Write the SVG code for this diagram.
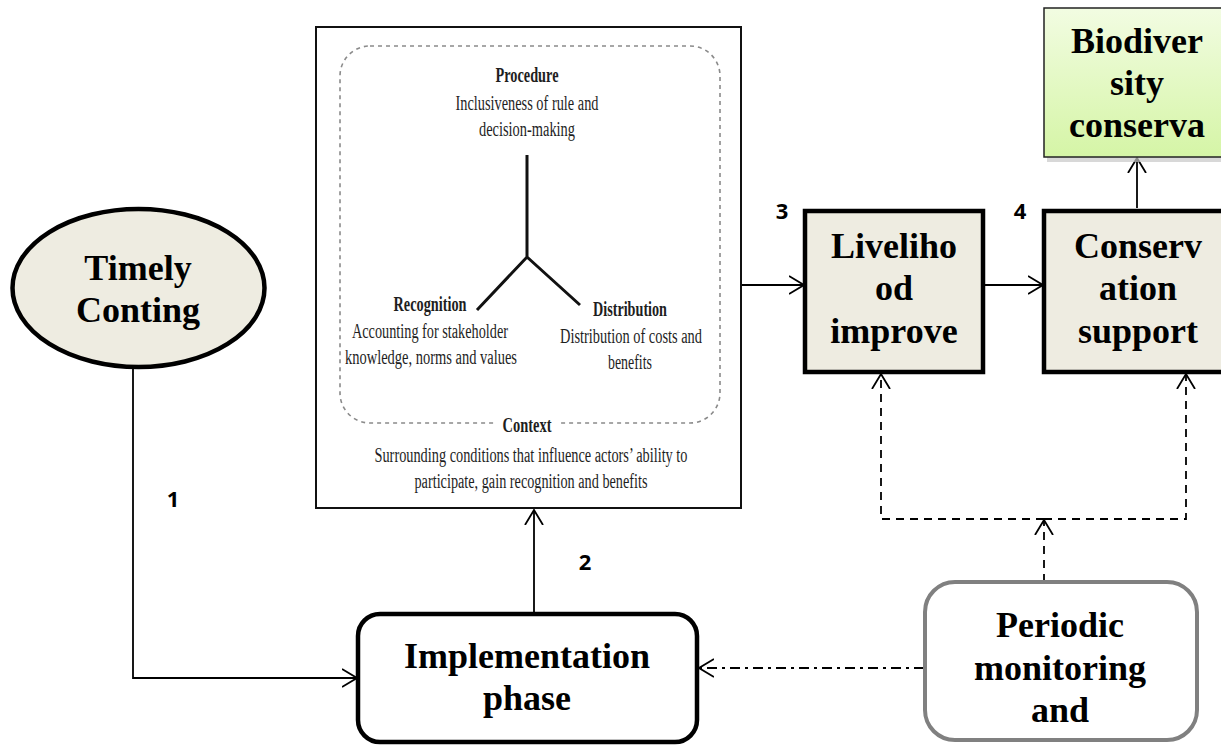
<svg xmlns="http://www.w3.org/2000/svg" width="1221" height="745" viewBox="0 0 1221 745">
<style>
.node{fill:#EEECE1;stroke:#000;stroke-width:4.5}
.big{font-family:"Liberation Serif","Times New Roman",serif;font-weight:bold;font-size:36px;fill:#000;text-anchor:middle}
.fig{font-family:"Liberation Serif","Times New Roman",serif;font-size:20px;fill:#1e1e1e;text-anchor:middle}
.figb{font-family:"Liberation Serif","Times New Roman",serif;font-size:21px;font-weight:bold;fill:#1e1e1e;text-anchor:middle}
.num{font-family:"Open Sans","Liberation Sans",Arial,sans-serif;font-weight:bold;font-size:22px;fill:#000;text-anchor:middle}
.conn{fill:none;stroke:#000;stroke-width:1.8}
.dash{stroke-dasharray:8 6}
.dashdot{stroke-dasharray:10 5 3 5}
</style>
<defs>
<marker id="arr" viewBox="0 0 16 20" refX="15" refY="10" markerWidth="16" markerHeight="20" markerUnits="userSpaceOnUse" orient="auto">
<path d="M0,1 L15,10 L0,19" fill="none" stroke="#000" stroke-width="1.8"/>
</marker>
<linearGradient id="green" x1="0" y1="0" x2="0" y2="1">
<stop offset="0" stop-color="#F2FCE2"/>
<stop offset="1" stop-color="#D5F5A6"/>
</linearGradient>
</defs>
<rect width="1221" height="745" fill="#fff"/>

<g id="connectors">
<path class="conn" d="M133,367 V678 H357" marker-end="url(#arr)"/>
<path class="conn" d="M534,612 V510" marker-end="url(#arr)"/>
<path class="conn" d="M741,285 H804" marker-end="url(#arr)"/>
<path class="conn" d="M983,285 H1043" marker-end="url(#arr)"/>
<path class="conn" d="M1137,208 V158" marker-end="url(#arr)"/>
<path class="conn dash" d="M1044,582 V520" marker-end="url(#arr)"/>
<path class="conn dash" d="M1044,519 H881 V374" marker-end="url(#arr)"/>
<path class="conn dash" d="M1044,519 H1186 V374" marker-end="url(#arr)"/>
<path class="conn dashdot" d="M924,668 H699" marker-end="url(#arr)"/>
</g>

<g id="labels">
<text class="num" x="173" y="507">1</text>
<text class="num" x="585" y="570">2</text>
<text class="num" x="782" y="219">3</text>
<text class="num" x="1020" y="219">4</text>
</g>

<g id="timely">
<ellipse cx="138.5" cy="288" rx="126" ry="79" class="node"/>
<text class="big" x="138" y="280">Timely</text>
<text class="big" x="138" y="322">Conting</text>
</g>

<g id="framework">
<rect x="316" y="27" width="425" height="481" fill="#fff" stroke="#111" stroke-width="2"/>
<rect x="340" y="46" width="380" height="377" rx="30" fill="none" stroke="#8a8a8a" stroke-width="1.6" stroke-dasharray="4 4"/>
<rect x="496" y="414" width="62" height="20" fill="#fff"/>
<path d="M527,155 V257 M477,310 L527,257 L580,305" fill="none" stroke="#111" stroke-width="3"/>
<text class="figb" x="527" y="82" textLength="63" lengthAdjust="spacingAndGlyphs">Procedure</text>
<text class="fig" x="527" y="110" textLength="143" lengthAdjust="spacingAndGlyphs">Inclusiveness of rule and</text>
<text class="fig" x="527" y="136" textLength="96" lengthAdjust="spacingAndGlyphs">decision-making</text>
<text class="figb" x="430" y="311" textLength="73" lengthAdjust="spacingAndGlyphs">Recognition</text>
<text class="fig" x="430" y="338" textLength="156" lengthAdjust="spacingAndGlyphs">Accounting for stakeholder</text>
<text class="fig" x="431" y="364" textLength="172" lengthAdjust="spacingAndGlyphs">knowledge, norms and values</text>
<text class="figb" x="630" y="316" textLength="74" lengthAdjust="spacingAndGlyphs">Distribution</text>
<text class="fig" x="631" y="343" textLength="142" lengthAdjust="spacingAndGlyphs">Distribution of costs and</text>
<text class="fig" x="630" y="369" textLength="44" lengthAdjust="spacingAndGlyphs">benefits</text>
<text class="figb" x="527" y="432" textLength="49" lengthAdjust="spacingAndGlyphs">Context</text>
<text class="fig" x="531" y="462" textLength="313" lengthAdjust="spacingAndGlyphs">Surrounding conditions that influence actors’ ability to</text>
<text class="fig" x="531" y="488" textLength="233" lengthAdjust="spacingAndGlyphs">participate, gain recognition and benefits</text>
</g>

<g id="biodiversity">
<rect x="1047" y="12" width="190" height="150" fill="#c8c8c8" opacity="0.7"/>
<rect x="1044" y="8" width="190" height="149" fill="url(#green)" stroke="#222" stroke-width="1.5"/>
<text class="big" x="1137" y="53">Biodiver</text>
<text class="big" x="1137" y="95">sity</text>
<text class="big" x="1137" y="137">conserva</text>
</g>

<g id="livelihood">
<rect x="805" y="211" width="178" height="161" class="node"/>
<text class="big" x="894" y="258">Liveliho</text>
<text class="big" x="894" y="300">od</text>
<text class="big" x="894" y="343">improve</text>
</g>

<g id="conservation">
<rect x="1044" y="211" width="190" height="161" class="node"/>
<text class="big" x="1138" y="258">Conserv</text>
<text class="big" x="1138" y="300">ation</text>
<text class="big" x="1138" y="343">support</text>
</g>

<g id="implementation">
<rect x="358" y="614" width="339" height="128" rx="22" fill="#fff" stroke="#000" stroke-width="4.5"/>
<text class="big" x="527" y="668">Implementation</text>
<text class="big" x="527" y="710">phase</text>
</g>

<g id="periodic">
<rect x="925" y="582" width="272" height="158" rx="30" fill="#fff" stroke="#808080" stroke-width="4"/>
<text class="big" x="1060" y="637">Periodic</text>
<text class="big" x="1060" y="680">monitoring</text>
<text class="big" x="1060" y="722">and</text>
</g>
</svg>
